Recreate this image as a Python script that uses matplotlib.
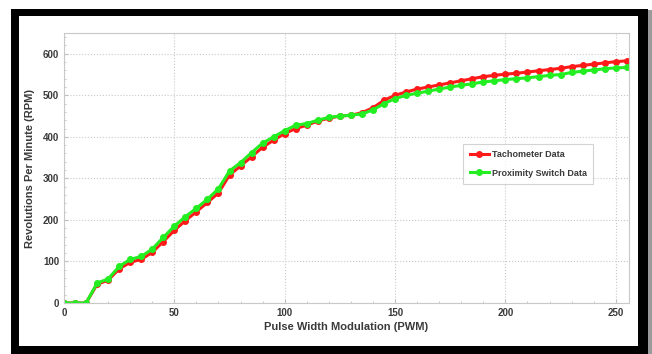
import matplotlib
matplotlib.use('Agg')
import matplotlib.pyplot as plt
from matplotlib.patches import Rectangle
import numpy as np

# PWM steps (every 5 counts)
pwm = list(range(0, 256, 5))

tacho_rpm = [0, 0, 0, 45, 55, 82, 98, 105, 122, 148,
             175, 198, 220, 242, 265, 308, 330, 352, 375, 392,
             408, 420, 428, 438, 445, 450, 452, 458, 470, 488,
             500, 508, 515, 520, 525, 530, 535, 540, 545, 548,
             551, 553, 556, 559, 562, 565, 569, 572, 575, 578,
             581, 583]

prox_rpm = [0, 0, 0, 48, 58, 88, 105, 112, 130, 158,
            185, 208, 228, 250, 275, 318, 338, 362, 385, 400,
            415, 428, 432, 440, 447, 450, 452, 455, 465, 480,
            492, 500, 505, 510, 515, 520, 524, 528, 532, 535,
            538, 540, 542, 545, 548, 550, 555, 558, 561, 564,
            566, 567]

x_ticks = [0, 50, 100, 150, 200, 250]
y_ticks = [0, 100, 200, 300, 400, 500, 600]

plt.rcParams['font.family'] = ['Liberation Sans', 'DejaVu Sans']
plt.rcParams['font.weight'] = 'bold'
plt.rcParams['axes.labelweight'] = 'bold'

W, H = 652, 354
fig = plt.figure(figsize=(W / 100, H / 100), dpi=100)
fig.patch.set_facecolor('white')

# picture frame: shadow, black border, white inside
fig.patches.append(Rectangle((646 / W, 0), 6 / W, 1 - 10 / H, transform=fig.transFigure,
                             facecolor='#9a9a9a', edgecolor='none', zorder=-10))
fig.patches.append(Rectangle((11 / W, 0), 637 / W, 1 - 9 / H, transform=fig.transFigure,
                             facecolor='black', edgecolor='none', zorder=-9))
fig.patches.append(Rectangle((19 / W, 8 / H), 619 / W, (346 - 16) / H, transform=fig.transFigure,
                             facecolor='white', edgecolor='none', zorder=-8))

ax = fig.add_axes([64 / W, (H - 303) / H, (629 - 64) / W, (303 - 33) / H])
ax.set_zorder(5)
ax.set_facecolor('white')

txt = '#3a3a3a'
ax.plot(pwm, tacho_rpm, color='#ff1a1a', lw=2.2, marker='o', ms=4,
        label='Tachometer Data')
ax.plot(pwm, prox_rpm, color='#22ee22', lw=2.2, marker='o', ms=4,
        label='Proximity Switch Data')

ax.set_xlim(0, 256)
ax.set_ylim(0, 650)
ax.set_xticks(x_ticks)
ax.set_yticks(y_ticks)
ax.set_xticks(np.arange(0, 256, 10), minor=True)
ax.set_yticks(np.arange(0, 651, 20), minor=True)
ax.grid(True, which='major', ls=':', color='#c8c8c8', lw=0.8)
ax.tick_params(which='both', direction='in', color='#c0c0c0', labelcolor=txt,
               labelsize=7, length=3)
ax.tick_params(which='minor', length=1.5)
for s in ax.spines.values():
    s.set_color('#c8c8c8')
    s.set_linewidth(0.8)

ax.set_xlabel('Pulse Width Modulation (PWM)', fontsize=8, color=txt, labelpad=3)
ax.set_ylabel('Revolutions Per Minute (RPM)', fontsize=8, color=txt, labelpad=6)

leg = ax.legend(loc='upper right', bbox_to_anchor=(0.945, 0.605), fontsize=6.5,
                frameon=True, fancybox=False, handlelength=2.2, borderpad=0.7,
                labelspacing=1.0, handletextpad=0.3)
leg.get_frame().set_edgecolor('#c8c8c8')
leg.get_frame().set_linewidth(0.8)
for t in leg.get_texts():
    t.set_color(txt)

fig.savefig('out.png', dpi=100)
